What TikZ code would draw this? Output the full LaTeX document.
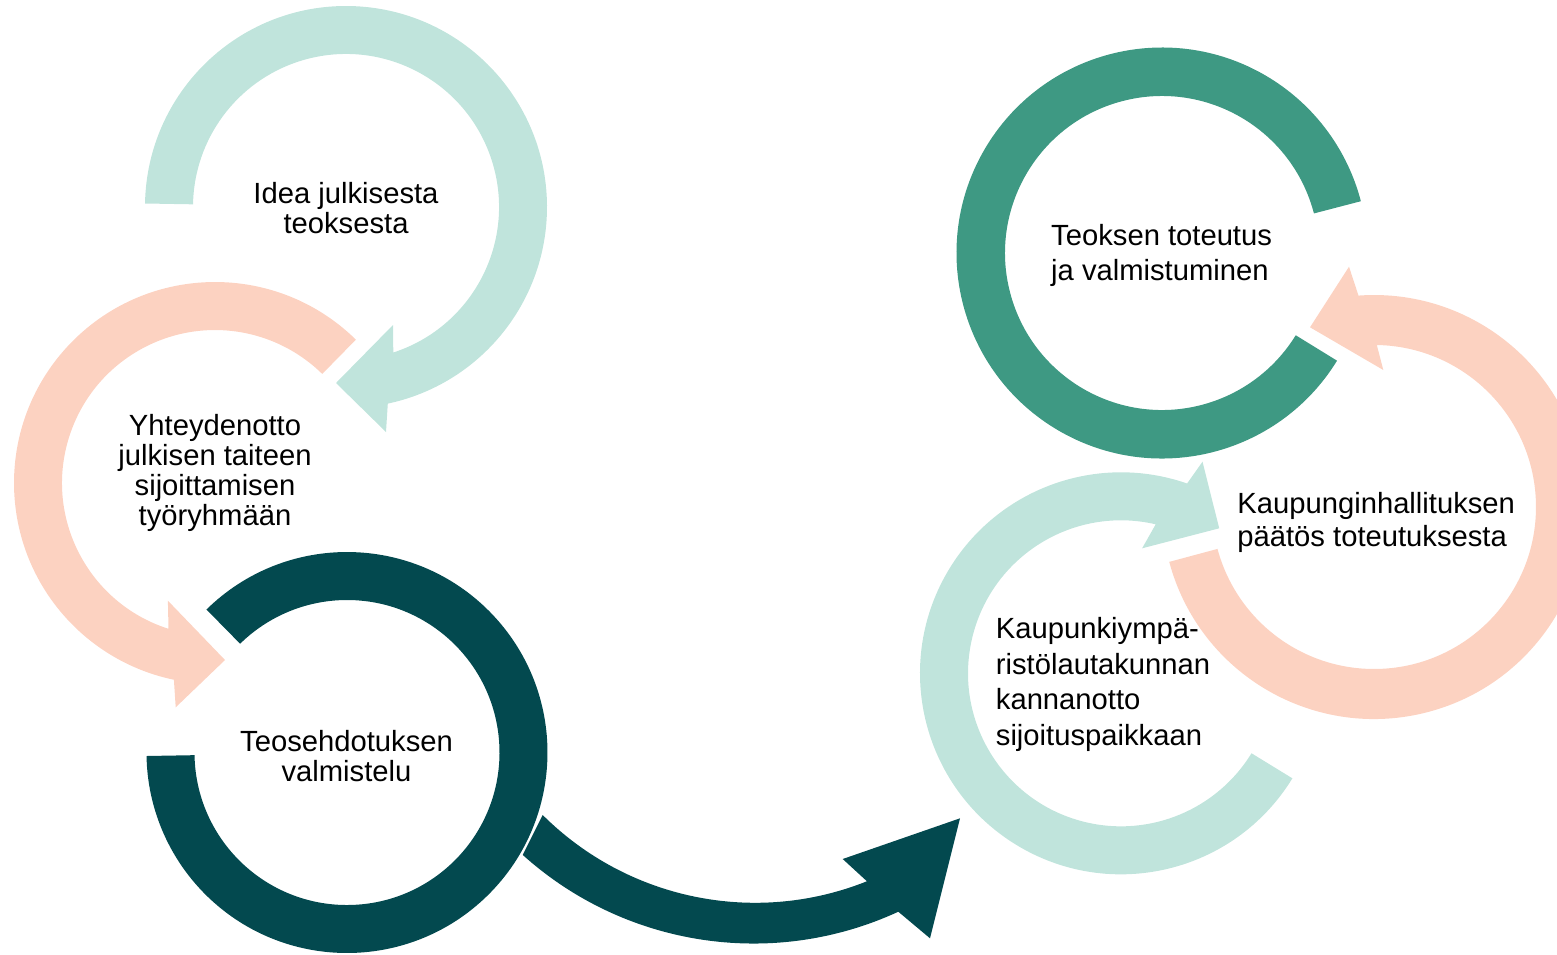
\documentclass[tikz,border=0pt]{standalone}
\usepackage{fontspec}
\setmainfont{Liberation Sans}
\usetikzlibrary{calc}
\definecolor{cLightTeal}{HTML}{C0E4DC}
\definecolor{cSalmon}{HTML}{FCD2C1}
\definecolor{cDarkTeal}{HTML}{03494F}
\definecolor{cGreen}{HTML}{3E9983}
\tikzset{
  ltband/.style={fill=cLightTeal},
  saband/.style={fill=cSalmon},
  dkband/.style={fill=cDarkTeal},
  grband/.style={fill=cGreen},
  lblc/.style={inner sep=0pt, anchor=base, align=center, text=black},
  lbll/.style={inner sep=0pt, anchor=base west, align=left, text=black}
}
\begin{document}
\begin{tikzpicture}[x=0.5pt,y=-0.5pt]
\useasboundingbox (0,0) rectangle (1557,954);
\clip (0,0) rectangle (1557,954);
% circle 1: Idea (light teal)
\fill[ltband] ($(346,207)+(181:201)$) arc[start angle=181, end angle=438, radius=201]
  -- (386,432) -- (336,383) -- (393,325) -- (393.3,352.5)
  arc[start angle=432, end angle=181, radius=153] -- cycle;
% circle 2: Yhteydenotto (salmon)
\fill[saband] ($(215,483)+(-45.5:201)$) arc[start angle=-45.5, end angle=-258.2, radius=201]
  -- (175.7,707.3) -- (225,660) -- (167.9,600.7) -- (168.5,628.8)
  arc[start angle=-252.3, end angle=-45.5, radius=153] -- cycle;
% circle 3: Teosehdotuksen (dark teal ring)
\fill[dkband] ($(347,752.5)+(225.5:200.5)$) arc[start angle=225.5, end angle=539, radius=200.5]
  -- ($(347,752.5)+(539:152.5)$) arc[start angle=539, end angle=225.5, radius=152.5] -- cycle;
% big curved arrow (dark teal)
\fill[dkband] (542.7,815) arc[start angle=134.9, end angle=68.2, radius=301]
  -- (842.7,859) -- (960,818.3) -- (930,938.3) -- (898.3,911.7)
  arc[start angle=65.2, end angle=132, radius=345] -- cycle;
% circle 4: Teoksen toteutus (green ring)
\fill[grband] ($(1162,253)+(31.6:205.5)$) arc[start angle=31.6, end angle=345.4, radius=205.5]
  -- ($(1162,253)+(345.4:157)$) arc[start angle=345.4, end angle=31.6, radius=157] -- cycle;
% circle 5: Kaupunkiympäristölautakunnan (light teal)
\fill[ltband] ($(1121,673.3)+(31.5:201)$) arc[start angle=31.5, end angle=289.2, radius=201]
  -- (1202.5,461.7) -- (1219.2,528.3) -- (1142.1,548.3) -- (1155.7,524.3)
  arc[start angle=283.1, end angle=31.5, radius=153] -- cycle;
% circle 6: Kaupunginhallituksen (salmon)
\fill[saband] ($(1374,507)+(165:212)$) arc[start angle=165, end angle=-94.2, radius=212]
  -- (1349,266.7) -- (1310,327.3) -- (1383.3,370) -- (1376.8,345)
  arc[start angle=-89, end angle=165, radius=162] -- cycle;
% texts (anchor = baseline of the last line)
\node[lblc, font=\fontsize{14.6pt}{14.8pt}\selectfont] (t1) at (346,233.5) {Idea julkisesta\\teoksesta};
\node[lblc, font=\fontsize{14.6pt}{15pt}\selectfont] (t2) at (215,525) {Yhteydenotto\\julkisen taiteen\\sijoittamisen\\työryhmään};
\node[lblc, font=\fontsize{14.6pt}{14.7pt}\selectfont] (t3) at (346.5,781) {Teosehdotuksen\\valmistelu};
\node[lbll, font=\fontsize{14.6pt}{17.5pt}\selectfont] (t4) at (1050.8,280) {Teoksen toteutus\\ja valmistuminen};
\node[lbll, font=\fontsize{14.6pt}{16.7pt}\selectfont] (t5) at (1237,546.7) {Kaupunginhallituksen\\päätös toteutuksesta};
\node[lbll, font=\fontsize{14.6pt}{17.7pt}\selectfont] (t6) at (995.5,745) {Kaupunkiympä-\\ristölautakunnan\\kannanotto\\sijoituspaikkaan};
\end{tikzpicture}
\end{document}
